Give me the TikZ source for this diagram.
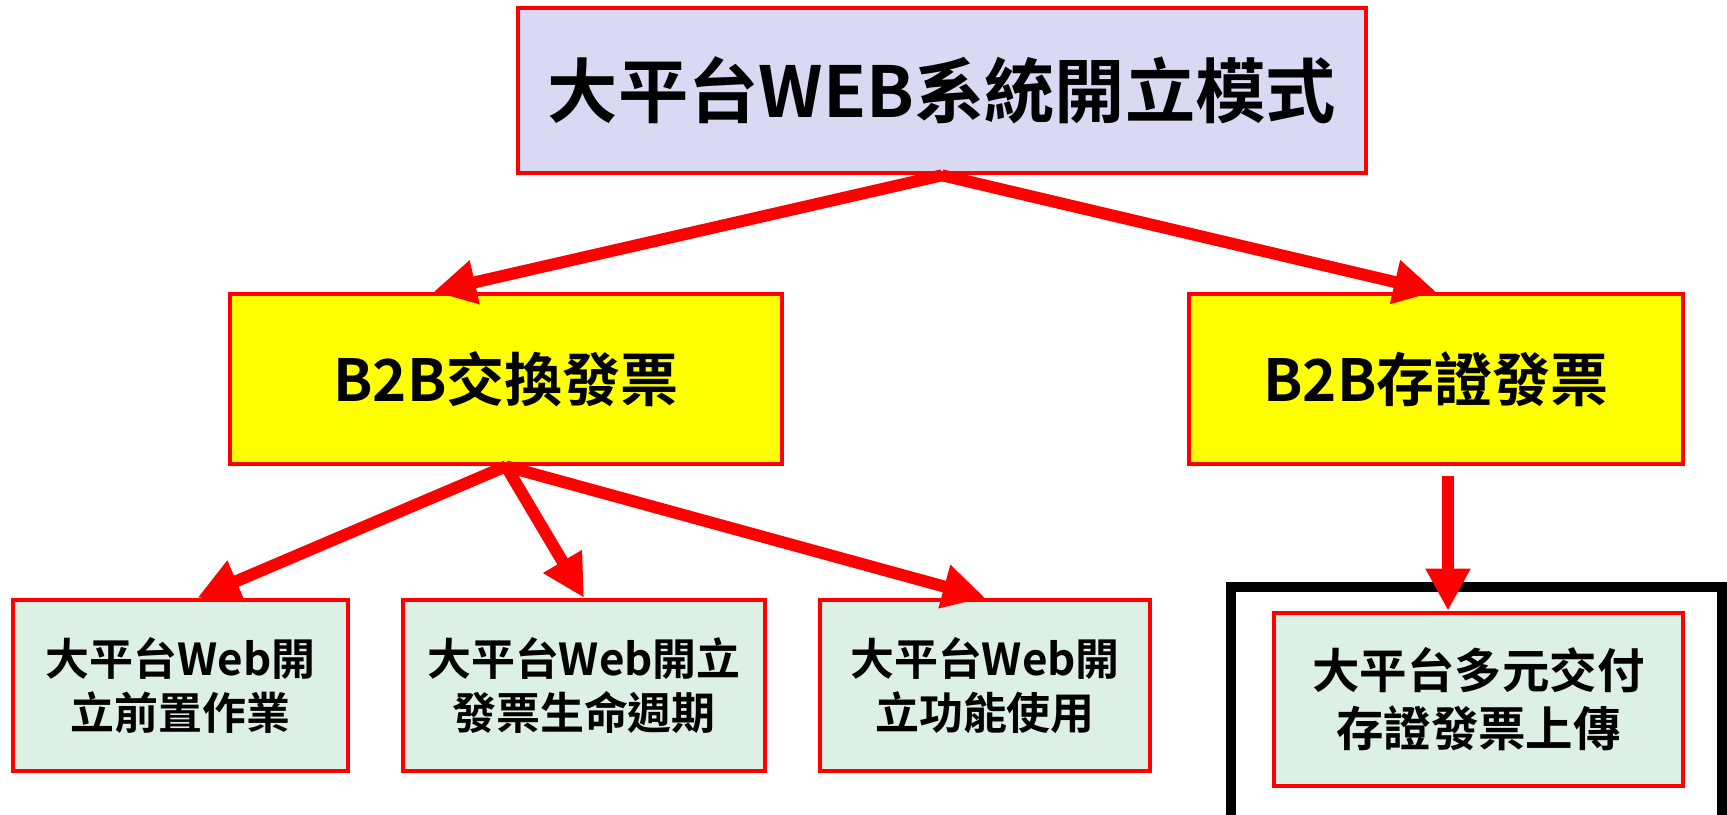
\documentclass[tikz,border=0pt]{standalone}
\usepackage{fontspec}
\setmainfont{Noto Sans CJK TC}[BoldFont={Noto Sans CJK TC Bold}]
\usetikzlibrary{arrows.meta,calc}
\definecolor{lav}{HTML}{D9D9F3}
\definecolor{mint}{HTML}{DDF0E6}
\definecolor{yel}{RGB}{255,255,0}

\begin{document}
\begin{tikzpicture}[b/.style={rectangle,draw=red,line width=1.3pt,align=center},
  a/.style={color=red,line width=3.4pt,-{Triangle[length=12pt,width=12pt]}}]
  \useasboundingbox (0,0) rectangle (17.27,-8.14);
  \node[b,fill=lav,minimum width=8.48cm,minimum height=1.65cm,font=\bfseries\fontsize{20}{24}\selectfont] (top) at (9.42,-0.905) {大平台WEB系統開立模式};
  \node[b,fill=yel,minimum width=5.52cm,minimum height=1.7cm,font=\bfseries\fontsize{16.5}{20}\selectfont] (lyel) at (5.06,-3.79) {B2B交換發票};
  \node[b,fill=yel,minimum width=4.94cm,minimum height=1.7cm,font=\bfseries\fontsize{16.5}{20}\selectfont] (ryel) at (14.36,-3.79) {B2B存證發票};

  \node[b,fill=mint,minimum width=3.35cm,minimum height=1.71cm,font=\bfseries\fontsize{12.5}{15.5}\selectfont] (pre) at (1.805,-6.855) {大平台Web開\\立前置作業};
  \node[b,fill=mint,minimum width=3.62cm,minimum height=1.71cm,font=\bfseries\fontsize{12.5}{15.5}\selectfont] (life) at (5.84,-6.855) {大平台Web開立\\發票生命週期};
  \node[b,fill=mint,minimum width=3.3cm,minimum height=1.71cm,font=\bfseries\fontsize{12.5}{15.5}\selectfont] (func) at (9.85,-6.855) {大平台Web開\\立功能使用};

  \node[draw=black,line width=3pt,minimum width=4.91cm,minimum height=2.43cm] (frame) at (14.765,-7.085) {};
  \node[b,fill=mint,minimum width=4.09cm,minimum height=1.73cm,font=\bfseries\fontsize{13.5}{16.5}\selectfont] (up) at (14.785,-6.995) {大平台多元交付\\存證發票上傳};

  \draw[a] (top.south) -- ($(lyel.north west)!0.37!(lyel.north east)$);
  \draw[a] (top.south) -- (ryel.north);
  \draw[a] (lyel.south) -- ($(pre.north west)!0.55!(pre.north east)$);
  \draw[a] (lyel.south) -- (life.north);
  \draw[a] (lyel.south) -- (func.north);
  \coordinate (drop) at ($(ryel.south)+(0.12,-0.1)$);
  \draw[a] (drop) -- (drop |- up.north);
\end{tikzpicture}
\end{document}
